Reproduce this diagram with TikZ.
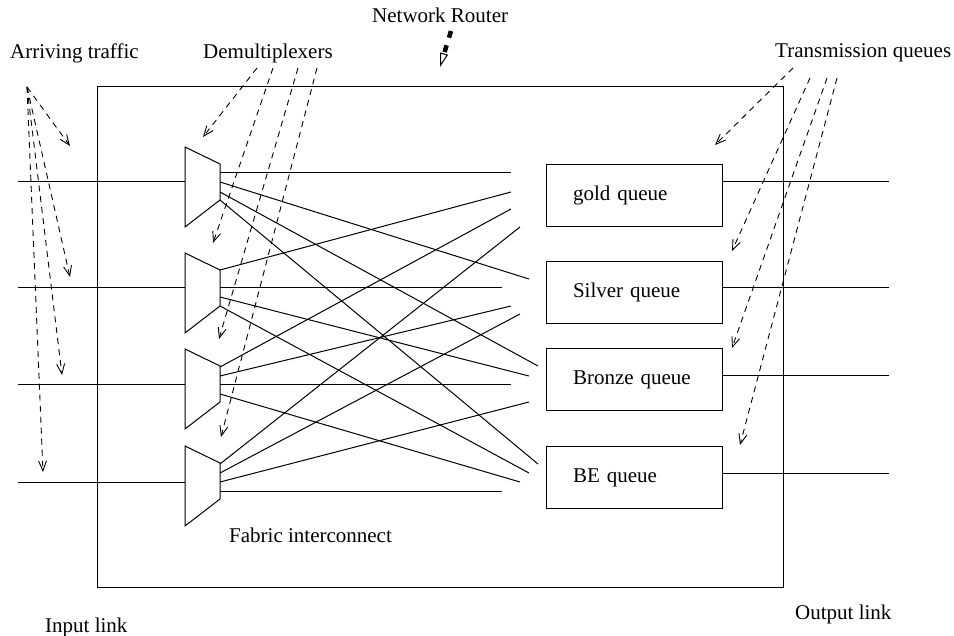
\documentclass[tikz,border=0pt]{standalone}
\usepackage{fontspec}
\setmainfont{Liberation Serif}
\usetikzlibrary{arrows.meta}

\begin{document}
\begin{tikzpicture}[x=1pt,y=-1pt,
  wire/.style={line width=1pt},
  pointer/.style={line width=0.9pt, dash pattern=on 6pt off 5pt,
    -{Straight Barb[length=10pt,width=8pt]}},
  lbl/.style={font=\fontsize{21}{25}\selectfont, inner sep=0pt, anchor=base west},
  queue/.style={draw, line width=1pt, minimum width=176pt, minimum height=62pt,
    inner xsep=27pt, text width=122pt, align=left,
    font=\fontsize{21}{25}\selectfont}]

\useasboundingbox (0,0) rectangle (954,636);

% router enclosure
\node[draw, line width=1.2pt, minimum width=686pt, minimum height=501pt,
  anchor=north west, inner sep=0pt] (router) at (97,86) {};

% labels
\node[lbl] (nrlabel) at (372,23) {Network Router};
\node[lbl] (arrlabel) at (10,59) {Arriving traffic};
\node[lbl] (demlabel) at (203,59) {Demultiplexers};
\node[lbl] (txlabel) at (775,58) {Transmission queues};
\node[lbl] (fablabel) at (229,542) {Fabric interconnect};
\node[lbl] (inlabel) at (45,632) {Input link};
\node[lbl] (outlabel) at (795,619) {Output link};

% queues
\node[queue] (gold)   at (634,195.5) {gold queue};
\node[queue] (silver) at (634,292.5) {Silver queue};
\node[queue] (bronze) at (634,380)   {Bronze queue};
\node[queue] (be)     at (634,477.5) {BE queue};

% output links
\coordinate (out1) at (889,182);
\coordinate (out2) at (889,288);
\coordinate (out3) at (889,376);
\coordinate (out4) at (889,473);
\draw[wire] (gold.east |- out1) -- (out1);
\draw[wire] (silver.east |- out2) -- (out2);
\draw[wire] (bronze.east |- out3) -- (out3);
\draw[wire] (be.east |- out4) -- (out4);

% demultiplexers: top of left edge, input height
\foreach \n/\t/\y in {1/147/182, 2/253/288, 3/349/385, 4/446/482}{
  \draw[wire] (185,\t) -- (220,\t+17) -- (220,\t+53) -- (185,\t+80) -- cycle;
  \coordinate (in\n) at (18,\y);
  \coordinate (din\n) at (185,\y);
  \draw[wire] (in\n) -- (din\n);
}

% demultiplexer outputs
\foreach \n/\a/\b/\c/\d in {1/173/182/192/200, 2/270/288/297/306,
                            3/367/376/385/394, 4/464/473/482/491}{
  \coordinate (d\n o1) at (220,\a);
  \coordinate (d\n o2) at (220,\b);
  \coordinate (d\n o3) at (220,\c);
  \coordinate (d\n o4) at (220,\d);
}

% queue-side ends of the fabric
\coordinate (g1) at (511,173); \coordinate (g2) at (511,192);
\coordinate (g3) at (511,209); \coordinate (g4) at (520,227);
\coordinate (s1) at (529,279); \coordinate (s2) at (502,288);
\coordinate (s3) at (511,306); \coordinate (s4) at (520,314);
\coordinate (b1) at (538,366); \coordinate (b2) at (529,376);
\coordinate (b3) at (511,385); \coordinate (b4) at (529,402);
\coordinate (e1) at (538,464); \coordinate (e2) at (529,473);
\coordinate (e3) at (520,482); \coordinate (e4) at (502,491);

% fabric interconnect
\foreach \n in {1,...,4}{
  \draw[wire] (d\n o1) -- (g\n);
  \draw[wire] (d\n o2) -- (s\n);
  \draw[wire] (d\n o3) -- (b\n);
  \draw[wire] (d\n o4) -- (e\n);
}

% pointers: arriving traffic
\coordinate (arrA) at (27,87);
\coordinate (arr1) at (70,146);
\coordinate (arr2) at (70,277);
\coordinate (arr3) at (62,375);
\coordinate (arr4) at (43,472);
\foreach \k in {1,...,4}{ \draw[pointer] (arrA) -- (arr\k); }

% pointers: demultiplexers
\coordinate (dmA1) at (257,68); \coordinate (dm1) at (203,137);
\coordinate (dmA2) at (273,68); \coordinate (dm2) at (213,243);
\coordinate (dmA3) at (298,68); \coordinate (dm3) at (219,339);
\coordinate (dmA4) at (317,68); \coordinate (dm4) at (221,437);
\foreach \k in {1,...,4}{ \draw[pointer] (dmA\k) -- (dm\k); }

% pointers: transmission queues
\coordinate (txA1) at (793,68); \coordinate (tx1) at (715,145);
\coordinate (txA2) at (810,78); \coordinate (tx2) at (732,251);
\coordinate (txA3) at (827,78); \coordinate (tx3) at (732,348);
\coordinate (txA4) at (837,78); \coordinate (tx4) at (740,445);
\foreach \k in {1,...,4}{ \draw[pointer] (txA\k) -- (tx\k); }

% network router pointer
\coordinate (nrA) at (451,31);
\coordinate (nrB) at (444.1,53.6);
\coordinate (nrC) at (440,67);
\draw[line width=4.5pt, dash pattern=on 7pt off 8pt] (nrA) -- (nrB);
\draw[line width=1pt, -{Triangle[open,length=14pt,width=8pt]}] (nrB) -- (nrC);

\end{tikzpicture}
\end{document}
